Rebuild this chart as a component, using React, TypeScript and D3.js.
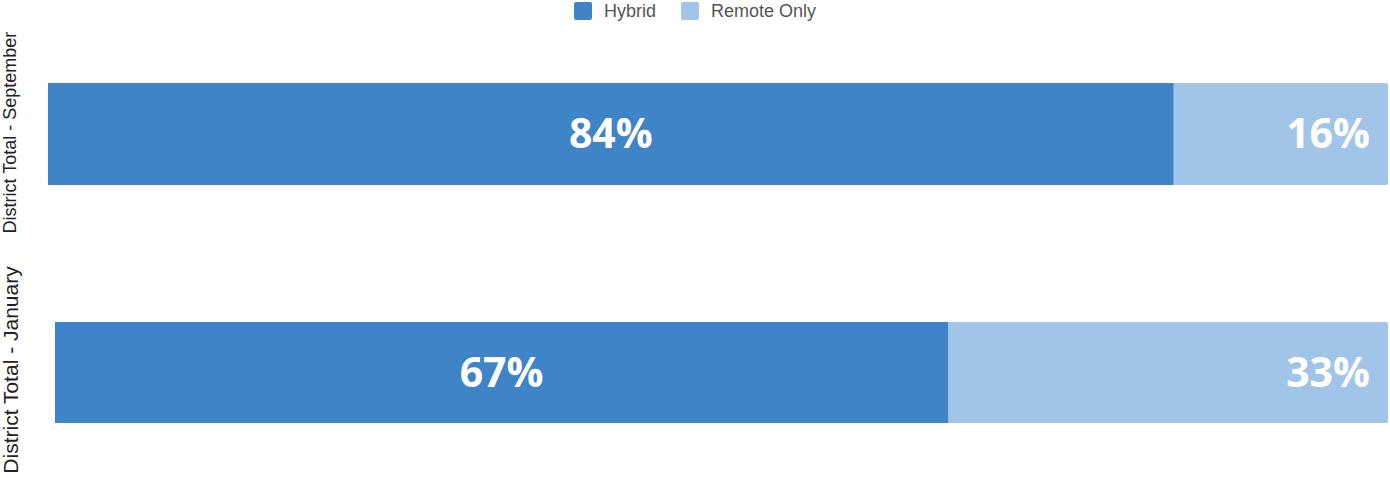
import React from "react";
import * as d3 from "d3";

const categories = ["District Total - September", "District Total - January"];
const hybrid = [84, 67];
const remoteOnly = [16, 33];
const seriesNames = ["Hybrid", "Remote Only"];
const colors = ["#3f84c6", "#a0c5e8"];

const W = 1390;
const H = 478;
const rows = [
  { left: 48, top: 83, height: 102, labelSize: 18, labelX: 16, labelY: 132.5 },
  { left: 55, top: 322, height: 101, labelSize: 21, labelX: 18, labelY: 370 },
];
const right = 1388;

export default function App() {
  return (
    <svg
      width={W}
      height={H}
      style={{ position: "absolute", left: 0, top: 0, display: "block", background: "#fff" }}
    >
      {/* legend */}
      <g fontFamily="'Liberation Sans', Arial, sans-serif" fontSize={18} fill="#555">
        <rect x={574} y={2} width={18} height={18} rx={2} fill={colors[0]} />
        <text x={604} y={17}>{seriesNames[0]}</text>
        <rect x={681} y={2} width={18} height={18} rx={2} fill={colors[1]} />
        <text x={711} y={17}>{seriesNames[1]}</text>
      </g>
      {categories.map((cat, i) => {
        const r = rows[i];
        const x = d3.scaleLinear().domain([0, 100]).range([r.left, right]);
        const h = hybrid[i];
        const ro = remoteOnly[i];
        const cy = r.top + r.height / 2;
        return (
          <g key={cat}>
            <text
              transform={`translate(${r.labelX},${r.labelY}) rotate(-90)`}
              textAnchor="middle"
              fontFamily="'Liberation Sans', Arial, sans-serif"
              fontSize={r.labelSize}
              fill="#222"
            >
              {cat}
            </text>
            <path
              d={`M${x(h)},${r.top} H${x(100) - 2} Q${x(100)},${r.top} ${x(100)},${r.top + 2} V${r.top + r.height - 2} Q${x(100)},${r.top + r.height} ${x(100) - 2},${r.top + r.height} H${x(h)} Z`}
              fill={colors[1]}
            />
            <rect x={x(0)} y={r.top} width={x(h) - x(0)} height={r.height} fill={colors[0]} />
            <text
              x={(x(0) + x(h)) / 2}
              y={cy + 14}
              textAnchor="middle"
              fontFamily="'Open Sans', 'Noto Sans', sans-serif"
              fontWeight={700}
              fontSize={41}
              fill="#fff"
            >
              {`${h}%`}
            </text>
            <text
              x={x(100) - 18}
              y={cy + 14}
              textAnchor="end"
              fontFamily="'Open Sans', 'Noto Sans', sans-serif"
              fontWeight={700}
              fontSize={41}
              fill="#fff"
            >
              {`${ro}%`}
            </text>
          </g>
        );
      })}
    </svg>
  );
}
